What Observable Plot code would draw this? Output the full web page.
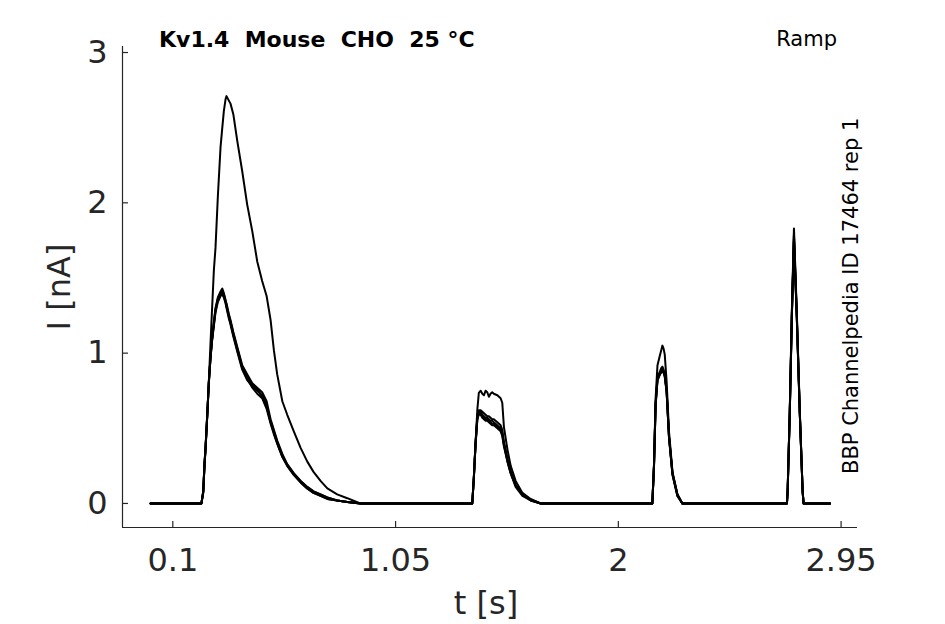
<!DOCTYPE html>
<html>
<head>
<meta charset="utf-8">
<script src="https://cdn.jsdelivr.net/npm/d3@7"></script>
<script src="https://cdn.jsdelivr.net/npm/@observablehq/plot@0.6"></script>
<style>
  html, body { margin: 0; padding: 0; background: #fff; }
  #chart { width: 945px; height: 624px; }
</style>
</head>
<body>
<div id="chart"></div>
<script>
// Shared time base (s)
const time = [
  0.005, 0.222, 0.2297, 0.235, 0.2395, 0.2468, 0.2536, 0.260, 0.2664, 0.275, 0.282, 0.292, 0.3035, 0.311, 0.3176, 0.325, 0.329, 0.339, 0.346, 0.358, 0.375, 0.396, 0.417, 0.439, 0.460, 0.481, 0.500, 0.517, 0.531, 0.545, 0.567, 0.588, 0.616, 0.645, 0.673, 0.700, 0.730, 0.759, 0.801, 0.844, 0.90,
  1.377, 1.384, 1.391, 1.399, 1.405, 1.413, 1.420, 1.427, 1.434, 1.441, 1.448, 1.455, 1.462, 1.469, 1.484, 1.498, 1.505, 1.512, 1.527, 1.541, 1.562, 1.591, 1.626, 1.669,
  2.145, 2.152, 2.159, 2.167, 2.178, 2.183, 2.188, 2.193, 2.198, 2.206, 2.216, 2.231, 2.252, 2.273,
  2.719, 2.722, 2.731, 2.740, 2.749, 2.761, 2.774, 2.786, 2.790, 2.903
];

// Current traces (nA)
const trace1 = [
  0, 0, 0.08, 0.26, 0.37, 0.59, 0.81, 1.04, 1.26, 1.55, 1.70, 2.04, 2.37, 2.50, 2.61, 2.69, 2.71, 2.68, 2.66, 2.59, 2.41, 2.21, 1.99, 1.81, 1.61, 1.48, 1.38, 1.22, 1.02, 0.86, 0.68, 0.59, 0.48, 0.37, 0.28, 0.21, 0.15, 0.10, 0.06, 0.035, 0,
  0, 0.18, 0.40, 0.63, 0.735, 0.75, 0.73, 0.72, 0.75, 0.74, 0.71, 0.73, 0.74, 0.73, 0.72, 0.70, 0.67, 0.51, 0.36, 0.25, 0.15, 0.07, 0.03, 0,
  0, 0.26, 0.70, 0.92, 0.99, 1.02, 1.05, 1.03, 0.99, 0.81, 0.48, 0.21, 0.06, 0,
  0, 0.08, 0.61, 1.28, 1.83, 1.28, 0.61, 0.08, 0, 0
];
const trace2 = [
  0, 0, 0.08, 0.26, 0.37, 0.59, 0.81, 0.96, 1.08, 1.21, 1.30, 1.37, 1.41, 1.43, 1.40, 1.35, 1.33, 1.26, 1.22, 1.14, 1.04, 0.92, 0.86, 0.80, 0.77, 0.74, 0.68, 0.56, 0.49, 0.42, 0.33, 0.26, 0.20, 0.15, 0.11, 0.08, 0.06, 0.04, 0.02, 0.01, 0,
  0, 0.18, 0.40, 0.59, 0.62, 0.62, 0.61, 0.60, 0.59, 0.58, 0.58, 0.57, 0.56, 0.56, 0.54, 0.52, 0.49, 0.41, 0.30, 0.21, 0.12, 0.06, 0.025, 0,
  0, 0.25, 0.67, 0.84, 0.88, 0.90, 0.91, 0.89, 0.86, 0.75, 0.45, 0.20, 0.06, 0,
  0, 0.08, 0.60, 1.26, 1.79, 1.26, 0.60, 0.08, 0, 0
];
const trace3 = [
  0, 0, 0.07, 0.25, 0.36, 0.58, 0.80, 0.95, 1.07, 1.19, 1.28, 1.35, 1.39, 1.40, 1.38, 1.34, 1.31, 1.24, 1.20, 1.12, 1.02, 0.90, 0.83, 0.77, 0.73, 0.70, 0.63, 0.53, 0.46, 0.40, 0.31, 0.25, 0.19, 0.14, 0.10, 0.07, 0.05, 0.03, 0.02, 0.01, 0,
  0, 0.17, 0.39, 0.57, 0.60, 0.60, 0.58, 0.57, 0.56, 0.56, 0.55, 0.54, 0.53, 0.53, 0.51, 0.49, 0.46, 0.39, 0.28, 0.20, 0.12, 0.06, 0.02, 0,
  0, 0.24, 0.66, 0.82, 0.86, 0.88, 0.89, 0.87, 0.85, 0.74, 0.44, 0.19, 0.05, 0,
  0, 0.08, 0.59, 1.24, 1.76, 1.24, 0.59, 0.08, 0, 0
];
const trace4 = [
  0, 0, 0.08, 0.26, 0.37, 0.59, 0.81, 0.96, 1.08, 1.20, 1.29, 1.36, 1.40, 1.41, 1.39, 1.35, 1.32, 1.25, 1.21, 1.13, 1.03, 0.91, 0.84, 0.79, 0.76, 0.71, 0.64, 0.55, 0.48, 0.41, 0.32, 0.26, 0.20, 0.15, 0.11, 0.08, 0.06, 0.04, 0.02, 0.01, 0,
  0, 0.18, 0.40, 0.58, 0.61, 0.61, 0.59, 0.58, 0.57, 0.57, 0.56, 0.55, 0.55, 0.54, 0.52, 0.50, 0.47, 0.40, 0.29, 0.21, 0.12, 0.06, 0.025, 0,
  0, 0.25, 0.66, 0.83, 0.87, 0.89, 0.90, 0.88, 0.86, 0.75, 0.45, 0.20, 0.06, 0,
  0, 0.08, 0.60, 1.25, 1.78, 1.25, 0.60, 0.08, 0, 0
];
const trace5 = [
  0, 0, 0.07, 0.25, 0.36, 0.58, 0.80, 0.95, 1.07, 1.18, 1.27, 1.34, 1.38, 1.39, 1.37, 1.33, 1.30, 1.23, 1.19, 1.11, 1.01, 0.89, 0.82, 0.78, 0.75, 0.72, 0.65, 0.54, 0.47, 0.40, 0.31, 0.25, 0.19, 0.14, 0.10, 0.07, 0.05, 0.03, 0.02, 0.01, 0,
  0, 0.17, 0.39, 0.56, 0.59, 0.59, 0.57, 0.56, 0.55, 0.55, 0.54, 0.53, 0.52, 0.52, 0.50, 0.48, 0.45, 0.38, 0.28, 0.20, 0.11, 0.05, 0.02, 0,
  0, 0.24, 0.65, 0.82, 0.86, 0.87, 0.88, 0.87, 0.84, 0.74, 0.44, 0.19, 0.05, 0,
  0, 0.08, 0.59, 1.24, 1.75, 1.24, 0.59, 0.08, 0, 0
];

const xTicks = [0.1, 1.05, 2, 2.95];
const yTicks = [0, 1, 2, 3];
const xDomain = [-0.1146, 3.02];
const yDomain = [-0.16, 3.04];

const titleText = "Kv1.4  Mouse  CHO  25 °C";
const protocolText = "Ramp";
const sourceText = "BBP Channelpedia ID 17464 rep 1";
const xLabel = "t [s]";
const yLabel = "I [nA]";

const traces = [trace1, trace2, trace3, trace4, trace5];
const rows = [];
traces.forEach((tr, k) => tr.forEach((v, i) => rows.push({t: time[i], I: v, trace: "rep" + k})));

const axisColor = "#262626";
const font = "DejaVu Sans, sans-serif";

const plot = Plot.plot({
  width: 945,
  height: 624,
  marginLeft: 122,
  marginRight: 88,
  marginTop: 46,
  marginBottom: 97,
  style: {background: "#fff", fontFamily: font, color: axisColor},
  x: {domain: xDomain},
  y: {domain: yDomain},
  marks: [
    Plot.line(rows, {x: "t", y: "I", z: "trace", stroke: "#000", strokeWidth: 2, curve: "linear"}),
    Plot.ruleY([yDomain[0]], {stroke: axisColor, strokeWidth: 1.2}),
    Plot.ruleX([xDomain[0]], {stroke: axisColor, strokeWidth: 1.2}),
    Plot.axisX({ticks: xTicks, tickSize: 6, text: null, label: null, dy: -6, stroke: axisColor, strokeWidth: 1.2}),
    Plot.axisY({ticks: yTicks, tickSize: 6, text: null, label: null, dx: 6, stroke: axisColor, strokeWidth: 1.2}),
    Plot.axisX({ticks: xTicks, tickSize: 0, tickPadding: 21, fontSize: 32, fill: axisColor, label: null, tickFormat: d => String(d)}),
    Plot.axisY({ticks: yTicks, tickSize: 0, tickPadding: 15, fontSize: 32, fill: axisColor, label: null, tickFormat: d => String(d)})
  ]
});

document.getElementById("chart").appendChild(plot);

const svg = d3.select(plot);
svg.append("text")
  .attr("x", 159).attr("y", 47).attr("text-anchor", "start")
  .attr("font-family", font).attr("font-size", 22).attr("font-weight", "bold")
  .attr("fill", "#000").style("white-space", "pre")
  .text(titleText);
svg.append("text")
  .attr("x", 837).attr("y", 46).attr("text-anchor", "end")
  .attr("font-family", font).attr("font-size", 21)
  .attr("fill", "#000")
  .text(protocolText);
svg.append("text")
  .attr("transform", "translate(858,474) rotate(-90)")
  .attr("text-anchor", "start")
  .attr("font-family", font).attr("font-size", 21)
  .attr("fill", "#000")
  .text(sourceText);
svg.append("text")
  .attr("x", 486).attr("y", 614).attr("text-anchor", "middle")
  .attr("font-family", font).attr("font-size", 32)
  .attr("fill", axisColor)
  .text(xLabel);
svg.append("text")
  .attr("transform", "translate(70,287) rotate(-90)")
  .attr("text-anchor", "middle")
  .attr("font-family", font).attr("font-size", 32)
  .attr("fill", axisColor)
  .text(yLabel);
</script>
</body>
</html>
